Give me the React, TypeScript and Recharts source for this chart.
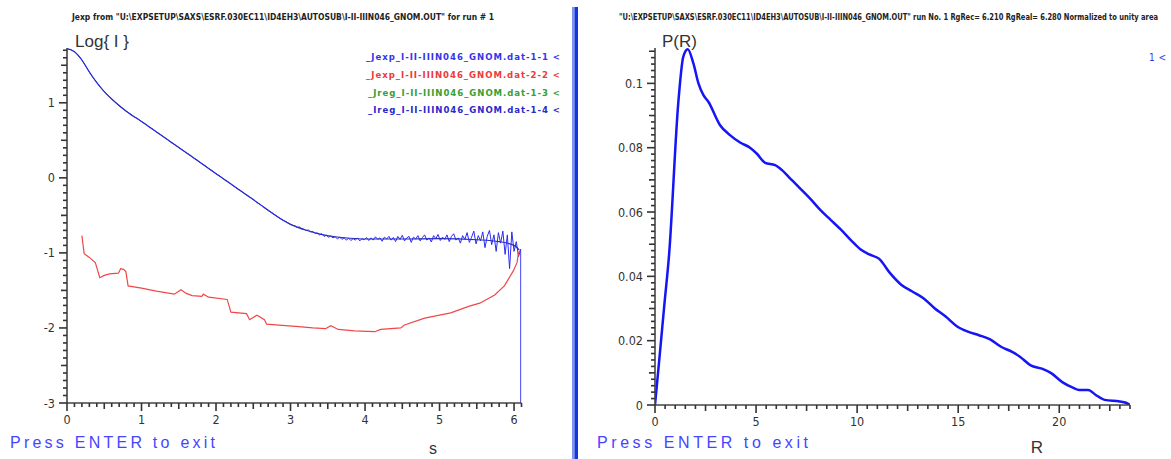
import React from 'react';
import { LineChart, Line, XAxis, YAxis } from 'recharts';

// ---- left panel: log I(s) ----
// Jexp curve 1, s = 0 .. 3.00 every 0.05
const JEXP_A_START = 0;
const JEXP_A_STEP = 0.05;
const JEXP_A_VALUES = [
  1.72, 1.71, 1.68, 1.635, 1.57, 1.49, 1.41, 1.335, 1.27, 1.205,
  1.15, 1.1, 1.05, 1.005, 0.96, 0.92, 0.885, 0.85, 0.815, 0.785,
  0.75, 0.72, 0.68, 0.65, 0.61, 0.58, 0.545, 0.51, 0.47, 0.44,
  0.405, 0.37, 0.335, 0.305, 0.265, 0.235, 0.195, 0.165, 0.125, 0.095,
  0.055, 0.025, -0.015, -0.045, -0.08, -0.12, -0.155, -0.185, -0.225, -0.255,
  -0.29, -0.33, -0.36, -0.4, -0.435, -0.465, -0.5, -0.535, -0.565, -0.59,
  -0.62,
];
// Jexp curve 1, s = 3.03 .. 6.06 every 0.03 (noisy tail)
const JEXP_B_START = 3.03;
const JEXP_B_STEP = 0.03;
const JEXP_B_VALUES = [
  -0.635, -0.64, -0.66, -0.655, -0.68, -0.685, -0.7, -0.695, -0.72, -0.715,
  -0.74, -0.735, -0.76, -0.745, -0.78, -0.765, -0.79, -0.775, -0.8, -0.785,
  -0.815, -0.79, -0.82, -0.8, -0.83, -0.805, -0.835, -0.81, -0.83, -0.8,
  -0.84, -0.81, -0.825, -0.795, -0.835, -0.8, -0.83, -0.785, -0.82, -0.8,
  -0.845, -0.79, -0.815, -0.78, -0.83, -0.795, -0.85, -0.78, -0.82, -0.765,
  -0.84, -0.8, -0.78, -0.86, -0.79, -0.815, -0.77, -0.84, -0.795, -0.76,
  -0.83, -0.8, -0.855, -0.77, -0.81, -0.755, -0.835, -0.79, -0.82, -0.76,
  -0.85, -0.78, -0.745, -0.83, -0.8, -0.87, -0.77, -0.82, -0.73, -0.86,
  -0.79, -0.71, -0.88, -0.77, -0.84, -0.72, -0.93, -0.78, -0.7, -0.89,
  -0.76, -0.98, -0.73, -0.87, -0.71, -1.02, -0.76, -1.21, -0.72, -0.98,
  -0.85, -1.05,
];
// final drop of curve 1 to the bottom of the frame
const JEXP_TAIL_S = [6.09, 6.09];
const JEXP_TAIL_V = [-0.95, -3.0];

// Jexp curve 2 (red)
const JEXP2_S = [
  0.2, 0.23, 0.3, 0.38, 0.44, 0.5, 0.57, 0.69, 0.72, 0.76, 0.79, 0.82, 1.0, 1.2,
  1.44, 1.53, 1.6, 1.68, 1.81, 1.83, 1.9, 2.15, 2.2, 2.41, 2.45, 2.55, 2.65, 2.68,
  2.8, 3.07, 3.3, 3.47, 3.54, 3.64, 3.86, 4.13, 4.21, 4.48, 4.53, 4.8, 4.95, 5.15,
  5.4, 5.54, 5.74, 5.87, 5.99, 6.04, 6.06, 6.08,
];
const JEXP2_V = [
  -0.77, -1.01, -1.06, -1.13, -1.33, -1.3, -1.28, -1.27, -1.21, -1.22, -1.25, -1.44, -1.47, -1.51,
  -1.55, -1.49, -1.54, -1.57, -1.58, -1.55, -1.59, -1.62, -1.79, -1.81, -1.89, -1.83, -1.89, -1.95,
  -1.96, -1.98, -2.0, -2.01, -1.97, -2.02, -2.04, -2.05, -2.02, -2.0, -1.96, -1.87, -1.84, -1.8,
  -1.71, -1.67, -1.56, -1.44, -1.24, -1.13, -1.0, -0.97,
];

// Ireg (smooth fit)
const IREG_S = [0, 0.1, 0.2, 0.3, 0.4, 0.5, 0.6, 0.8, 1.0, 1.5, 2.0, 2.5, 3.0, 3.2, 3.4, 3.6, 3.8, 4.0, 4.5, 5.0, 5.5, 5.8, 6.0, 6.07];
const IREG_V = [1.72, 1.68, 1.57, 1.41, 1.27, 1.15, 1.05, 0.885, 0.75, 0.405, 0.055, -0.29, -0.62, -0.695, -0.75, -0.785, -0.805, -0.815, -0.815, -0.81, -0.825, -0.85, -0.9, -0.96];

const LEFT_X_MAJOR = [0, 1, 2, 3, 4, 5, 6];
const LEFT_Y_MAJOR = [-3, -2, -1, 0, 1];
const LEGEND_LINES = [
  '_Jexp_I-II-IIIN046_GNOM.dat-1-1 <',
  '_Jexp_I-II-IIIN046_GNOM.dat-2-2 <',
  '_Jreg_I-II-IIIN046_GNOM.dat-1-3 <',
  '_Ireg_I-II-IIIN046_GNOM.dat-1-4 <',
];
const LEGEND_COLORS = ['#3535ee', '#ee3a3a', '#35a035', '#2a2ac8'];

// ---- right panel: P(R) ----
const PR_R = [
  0, 0.27, 0.46, 0.7, 1.15, 1.4, 1.62, 1.9, 2.15, 2.39, 2.64, 3.22, 3.71, 4.21, 4.7, 5.03,
  5.45, 5.94, 6.27, 6.68, 7.2, 7.7, 8.2, 8.7, 9.2, 9.7, 10.16, 10.6, 11.08, 11.63, 12.18,
  12.73, 13.28, 13.83, 14.38, 14.93, 15.48, 16.03, 16.58, 17.12, 17.67, 18.04, 18.59,
  19.14, 19.6, 20.15, 20.7, 20.98, 21.43, 21.79, 22.25, 22.99, 23.3, 23.5,
];
const PR_P = [
  0, 0.018, 0.031, 0.047, 0.0938, 0.1083, 0.1106, 0.1062, 0.1, 0.0964, 0.0943, 0.087, 0.0839,
  0.0816, 0.08, 0.0782, 0.0753, 0.0746, 0.0731, 0.0705, 0.0672, 0.064, 0.0605, 0.0575, 0.0545,
  0.0512, 0.0484, 0.0468, 0.0455, 0.041, 0.0374, 0.0353, 0.0332, 0.0301, 0.0275, 0.0245,
  0.0228, 0.0217, 0.0204, 0.0181, 0.0165, 0.0151, 0.0123, 0.0113, 0.0099, 0.0071, 0.0053,
  0.0047, 0.0047, 0.0032, 0.0016, 0.0011, 0.0007, 0,
];
const RIGHT_X_MAJOR = [0, 5, 10, 15, 20];
const RIGHT_Y_MAJOR = [0, 0.02, 0.04, 0.06, 0.08, 0.1];

const LEFT_TITLE =
  'Jexp from "U:\\EXPSETUP\\SAXS\\ESRF.030EC11\\ID4EH3\\AUTOSUB\\I-II-IIIN046_GNOM.OUT" for run # 1';
const RIGHT_TITLE =
  '"U:\\EXPSETUP\\SAXS\\ESRF.030EC11\\ID4EH3\\AUTOSUB\\I-II-IIIN046_GNOM.OUT" run No. 1 RgRec= 6.210 RgReal= 6.280 Normalized to unity area';

const FONT = '"Liberation Sans", Arial, sans-serif';
const NARROW = '"Liberation Sans Narrow", "DejaVu Sans Condensed", "Liberation Sans", sans-serif';

const jexpData = [
  ...JEXP_A_VALUES.map((v, i) => ({ s: +(JEXP_A_START + i * JEXP_A_STEP).toFixed(3), v })),
  ...JEXP_B_VALUES.map((v, i) => ({ s: +(JEXP_B_START + i * JEXP_B_STEP).toFixed(3), v })),
  ...JEXP_TAIL_S.map((s, i) => ({ s, v: JEXP_TAIL_V[i] })),
];
const jexp2Data = JEXP2_S.map((s, i) => ({ s, v: JEXP2_V[i] }));
const iregData = IREG_S.map((s, i) => ({ s, v: IREG_V[i] }));
const prData = PR_R.map((r, i) => ({ r, p: PR_P[i] }));

const steps = (from: number, to: number, step: number) => {
  const out: number[] = [];
  for (let i = 0; from + i * step <= to + 1e-9; i++) out.push(+(from + i * step).toFixed(4));
  return out;
};
const near = (a: number, b: number) => Math.abs(a - b) < 1e-6;

const MINOR = 4; // base tick length drawn by the axis itself
const TICK_COLOR = '#333';

// the axis draws a short tick everywhere; this lengthens mid/major ticks and adds labels
const makeTick = (side: 'x' | 'y', majors: number[], mid: number, fmt: (v: number) => string) => (props: any) => {
  const { x, y, payload } = props;
  const v = payload.value;
  const isMajor = majors.some((m) => near(m, v));
  const isMid = !isMajor && near(v / mid, Math.round(v / mid));
  const extra = isMajor ? 4 : isMid ? 2 : 0;
  if (side === 'y') {
    return (
      <g>
        {extra > 0 && <path d={`M${x},${y}H${x - extra}`} stroke={TICK_COLOR} strokeWidth={1.6} fill="none" />}
        {isMajor && (
          <text x={x - 8} y={y} dy="0.36em" textAnchor="end" fontSize={12.5} fill="#333" fontFamily={NARROW}>
            {fmt(v)}
          </text>
        )}
      </g>
    );
  }
  return (
    <g>
      {extra > 0 && <path d={`M${x},${y}V${y + extra}`} stroke={TICK_COLOR} strokeWidth={1.6} fill="none" />}
      {isMajor && (
        <text x={x} y={y + 12} dy="0.36em" textAnchor="middle" fontSize={12.5} fill="#333" fontFamily={NARROW}>
          {fmt(v)}
        </text>
      )}
    </g>
  );
};

const fmtPlain = (v: number) => String(v);
const fmtPR = (v: number) => (v === 0 ? '0' : String(+v.toFixed(2)));
const axisStroke = { stroke: '#444', strokeWidth: 1.6 };
const tickStroke = { stroke: TICK_COLOR, strokeWidth: 1.6 };

export default function App() {
  return (
    <div style={{ position: 'absolute', left: 0, top: 0, width: 1171, height: 459, background: '#fff', overflow: 'hidden' }}>
      <div style={{ position: 'absolute', left: 0, top: 0 }}>
        <LineChart width={570} height={459} margin={{ top: 48, right: 48.5, bottom: 26, left: 27 }}>
          <XAxis
            type="number"
            dataKey="s"
            domain={[0, 6.1]}
            allowDataOverflow
            ticks={steps(0, 6.1, 0.1)}
            interval={0}
            tickSize={MINOR}
            tickMargin={0}
            height={30}
            tickLine={tickStroke}
            axisLine={axisStroke}
            tick={makeTick('x', LEFT_X_MAJOR, 0.5, fmtPlain)}
          />
          <YAxis
            type="number"
            domain={[-3, 1.73]}
            allowDataOverflow
            ticks={steps(-3, 1.7, 0.1)}
            interval={0}
            tickSize={MINOR}
            tickMargin={0}
            width={40}
            tickLine={tickStroke}
            axisLine={axisStroke}
            tick={makeTick('y', LEFT_Y_MAJOR, 0.5, fmtPlain)}
          />
          <Line data={iregData} dataKey="v" type="monotone" stroke="#2c2ca8" strokeWidth={1.2} dot={false} activeDot={false} isAnimationActive={false} />
          <Line data={jexpData} dataKey="v" type="linear" stroke="#2b2bf0" strokeWidth={1} dot={false} activeDot={false} isAnimationActive={false} />
          <Line data={jexp2Data} dataKey="v" type="linear" stroke="#f04848" strokeWidth={1.2} dot={false} activeDot={false} isAnimationActive={false} />
        </LineChart>
      </div>

      <div style={{ position: 'absolute', left: 580, top: 0 }}>
        <LineChart width={591} height={459} margin={{ top: 48, right: 41, bottom: 24, left: 25 }}>
          <XAxis
            type="number"
            dataKey="r"
            domain={[0, 23.5]}
            allowDataOverflow
            ticks={steps(0, 23.5, 0.5)}
            interval={0}
            tickSize={MINOR}
            tickMargin={0}
            height={30}
            tickLine={tickStroke}
            axisLine={axisStroke}
            tick={makeTick('x', RIGHT_X_MAJOR, 2.5, fmtPlain)}
          />
          <YAxis
            type="number"
            domain={[0, 0.111]}
            allowDataOverflow
            ticks={steps(0, 0.11, 0.002)}
            interval={0}
            tickSize={MINOR}
            tickMargin={0}
            width={50}
            tickLine={tickStroke}
            axisLine={axisStroke}
            tick={makeTick('y', RIGHT_Y_MAJOR, 0.01, fmtPR)}
          />
          <Line data={prData} dataKey="p" type="monotone" stroke="#1515f5" strokeWidth={2.5} dot={false} activeDot={false} isAnimationActive={false} />
        </LineChart>
      </div>

      <svg width={1171} height={459} style={{ position: 'absolute', left: 0, top: 0, pointerEvents: 'none' }}>
        {/* panel divider */}
        <rect x={572} y={7} width={2.5} height={452} fill="#7f95ee" />
        <rect x={574.5} y={7} width={3.5} height={452} fill="#1236e0" />

        <text x={72} y={17} dy="0.35em" fontSize={9} fontWeight="bold" fill="#222" fontFamily={NARROW} textLength={422} lengthAdjust="spacingAndGlyphs">
          {LEFT_TITLE}
        </text>
        <text x={1158} y={17} dy="0.35em" textAnchor="end" fontSize={8.5} fontWeight="bold" fill="#222" fontFamily={NARROW} textLength={539} lengthAdjust="spacingAndGlyphs">
          {RIGHT_TITLE}
        </text>

        <text x={75} y={41} dy="0.35em" fontSize={17} fill="#333" fontFamily={FONT}>Log{'{ I }'}</text>
        <text x={662} y={41} dy="0.35em" fontSize={17} fill="#333" fontFamily={FONT}>P(R)</text>

        {LEGEND_LINES.map((t, i) => (
          <text key={t} x={560} y={57 + i * 17.7} dy="0.35em" textAnchor="end" fontSize={9.5} fontWeight={600} fill={LEGEND_COLORS[i]} fontFamily={NARROW} textLength={194 - (i > 1 ? 2 : 0)} lengthAdjust="spacing">
            {t}
          </text>
        ))}
        <text x={1166} y={57} dy="0.35em" textAnchor="end" fontSize={10} fill="#3535ee" fontFamily={NARROW} textLength={17} lengthAdjust="spacing">1 &lt;</text>

        <text x={433} y={448} dy="0.35em" textAnchor="middle" fontSize={16} fill="#333" fontFamily={FONT}>s</text>
        <text x={1037} y={447} dy="0.35em" textAnchor="middle" fontSize={17} fill="#333" fontFamily={FONT}>R</text>

        <text x={10} y={442} dy="0.35em" fontSize={16} fill="#4545ff" fontFamily={FONT} textLength={205} lengthAdjust="spacing">Press ENTER to exit</text>
        <text x={597} y={442} dy="0.35em" fontSize={16} fill="#4545ff" fontFamily={FONT} textLength={211} lengthAdjust="spacing">Press ENTER to exit</text>
      </svg>
    </div>
  );
}
